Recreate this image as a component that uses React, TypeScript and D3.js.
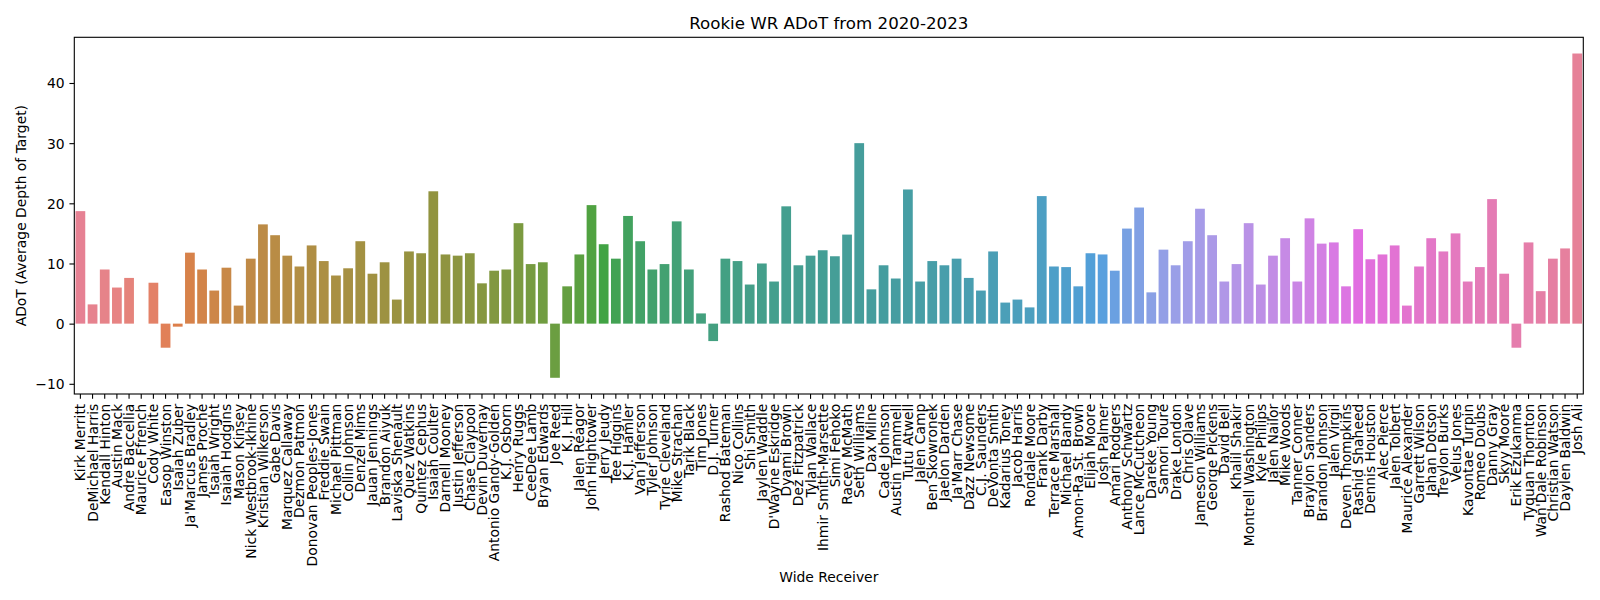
import React, { useRef, useEffect } from "react";
import * as d3 from "d3";

const receivers = [
  "Kirk Merritt", "DeMichael Harris", "Kendall Hinton", "Austin Mack", "Andre Baccellia",
  "Maurice Ffrench", "Cody White", "Easop Winston", "Isaiah Zuber", "Ja'Marcus Bradley",
  "James Proche", "Isaiah Wright", "Isaiah Hodgins", "Mason Kinsey", "Nick Westbrook-Ikhine",
  "Kristian Wilkerson", "Gabe Davis", "Marquez Callaway", "Dezmon Patmon", "Donovan Peoples-Jones",
  "Freddie Swain", "Michael Pittman", "Collin Johnson", "Denzel Mims", "Jauan Jennings",
  "Brandon Aiyuk", "Laviska Shenault", "Quez Watkins", "Quintez Cephus", "Isaiah Coulter",
  "Darnell Mooney", "Justin Jefferson", "Chase Claypool", "Devin Duvernay", "Antonio Gandy-Golden",
  "K.J. Osborn", "Henry Ruggs", "CeeDee Lamb", "Bryan Edwards", "Joe Reed",
  "K.J. Hill", "Jalen Reagor", "John Hightower", "Jerry Jeudy", "Tee Higgins",
  "K.J. Hamler", "Van Jefferson", "Tyler Johnson", "Tyrie Cleveland", "Mike Strachan",
  "Tarik Black", "Tim Jones", "D.J. Turner", "Rashod Bateman", "Nico Collins",
  "Shi Smith", "Jaylen Waddle", "D'Wayne Eskridge", "Dyami Brown", "Dez Fitzpatrick",
  "Tylan Wallace", "Ihmir Smith-Marsette", "Simi Fehoko", "Racey McMath", "Seth Williams",
  "Dax Milne", "Cade Johnson", "Austin Trammell", "Tutu Atwell", "Jalen Camp",
  "Ben Skowronek", "Jaelon Darden", "Ja'Marr Chase", "Dazz Newsome", "C.J. Saunders",
  "DeVonta Smith", "Kadarius Toney", "Jacob Harris", "Rondale Moore", "Frank Darby",
  "Terrace Marshall", "Michael Bandy", "Amon-Ra St. Brown", "Elijah Moore", "Josh Palmer",
  "Amari Rodgers", "Anthony Schwartz", "Lance McCutcheon", "Dareke Young", "Samori Toure",
  "Drake London", "Chris Olave", "Jameson Williams", "George Pickens", "David Bell",
  "Khalil Shakir", "Montrell Washington", "Kyle Philips", "Jalen Nailor", "Mike Woods",
  "Tanner Conner", "Braylon Sanders", "Brandon Johnson", "Jalen Virgil", "Deven Thompkins",
  "Rashid Shaheed", "Dennis Houston", "Alec Pierce", "Jalen Tolbert", "Maurice Alexander",
  "Garrett Wilson", "Jahan Dotson", "Treylon Burks", "Velus Jones", "Kavontae Turpin",
  "Romeo Doubs", "Danny Gray", "Skyy Moore", "Erik Ezukanma", "Tyquan Thornton",
  "Wan'Dale Robinson", "Christian Watson", "Daylen Baldwin", "Josh Ali",
];

const adot = [
  18.7, 3.2, 9.0, 6.0, 7.6,
  0, 6.8, -4.0, -0.5, 11.8,
  9.0, 5.5, 9.3, 3.0, 10.8,
  16.5, 14.7, 11.3, 9.5, 13.0,
  10.4, 8.0, 9.2, 13.7, 8.3,
  10.2, 4.0, 12.0, 11.7, 22.0,
  11.5, 11.3, 11.7, 6.7, 8.8,
  9.0, 16.7, 9.9, 10.2, -9.0,
  6.2, 11.5, 19.7, 13.2, 10.8,
  17.9, 13.7, 9.0, 9.9, 17.0,
  9.0, 1.7, -2.9, 10.8, 10.4,
  6.5, 10.0, 7.0, 19.5, 9.7,
  11.3, 12.2, 11.2, 14.8, 30.0,
  5.7, 9.7, 7.5, 22.3, 7.0,
  10.4, 9.7, 10.8, 7.6, 5.5,
  12.0, 3.5, 4.0, 2.7, 21.2,
  9.5, 9.4, 6.2, 11.7, 11.5,
  8.8, 15.8, 19.3, 5.2, 12.3,
  9.7, 13.7, 19.1, 14.7, 7.0,
  9.9, 16.7, 6.5, 11.3, 14.2,
  7.0, 17.5, 13.3, 13.5, 6.2,
  15.7, 10.7, 11.5, 13.0, 3.0,
  9.5, 14.2, 12.0, 15.0, 7.0,
  9.4, 20.7, 8.3, -4.0, 13.5,
  5.4, 10.8, 12.5, 44.9,
];

const yTicks = [-10, 0, 10, 20, 30, 40];

// husl (seaborn flavour) -> rgb
const M = [
  [3.2406, -1.5372, -0.4986],
  [-0.9689, 1.8758, 0.0415],
  [0.0557, -0.204, 1.057],
];
const refU = 0.19784;
const refV = 0.46834;
const kappa = 903.2962962;
const epsilon = 0.0088564516;

const maxChroma = (L: number, H: number) => {
  const hrad = (H / 360) * 2 * Math.PI;
  const sinH = Math.sin(hrad);
  const cosH = Math.cos(hrad);
  const sub1 = Math.pow(L + 16, 3) / 1560896;
  const sub2 = sub1 > epsilon ? sub1 : L / kappa;
  let result = Infinity;
  for (const [m1, m2, m3] of M) {
    const top = (0.99915 * m1 + 1.05122 * m2 + 1.1446 * m3) * sub2;
    const rbottom = 0.8633 * m3 - 0.17266 * m2;
    const lbottom = 0.12949 * m3 - 0.38848 * m1;
    const bottom = (rbottom * sinH + lbottom * cosH) * sub2;
    for (const t of [0, 1]) {
      const C = (L * (top - 1.05122 * t)) / (bottom + 0.17266 * sinH * t);
      if (C > 0 && C < result) result = C;
    }
  }
  return result;
};

const huslToRgb = (H: number, S: number, L: number) => {
  const C = (maxChroma(L, H) / 100) * S;
  const hrad = (H / 360) * 2 * Math.PI;
  const U = Math.cos(hrad) * C;
  const V = Math.sin(hrad) * C;
  const t = (L + 16) / 116;
  const Y = Math.pow(t, 3) > epsilon ? Math.pow(t, 3) : (116 * t - 16) / kappa;
  const varU = U / (13 * L) + refU;
  const varV = V / (13 * L) + refV;
  const X = 0 - (9 * Y * varU) / ((varU - 4) * varV - varU * varV);
  const Z = (9 * Y - 15 * varV * Y - varV * X) / (3 * varV);
  return M.map(([a, b, c]) => {
    const lin = a * X + b * Y + c * Z;
    const v = lin <= 0.0031308 ? 12.92 * lin : 1.055 * Math.pow(lin, 1 / 2.4) - 0.055;
    return Math.max(0, Math.min(1, v));
  });
};

const barColors = (n: number) =>
  d3.range(n).map((i) => {
    const h = ((i / n + 0.01) % 1) * 359;
    const [r, g, b] = huslToRgb(h, 0.9 * 99, 0.65 * 99);
    const c = d3.hsl(d3.rgb(r * 255, g * 255, b * 255));
    c.s *= 0.75;
    return c.formatHex();
  });

const W = 1600;
const H = 600;
const margin = { left: 74.3, right: 1583.3, top: 37.3, bottom: 394 };
const font = "DejaVu Sans, sans-serif";

export default function App() {
  const svgRef = useRef<SVGSVGElement>(null);

  useEffect(() => {
    if (!svgRef.current) return;
    const svg = d3.select(svgRef.current);
    svg.selectAll("*").remove();

    const x = d3
      .scaleBand<string>()
      .domain(receivers)
      .range([margin.left, margin.right])
      .paddingInner(0.2)
      .paddingOuter(0.1);

    const lo = d3.min(adot)!;
    const hi = d3.max(adot)!;
    const pad = (hi - lo) * 0.05;
    const y = d3
      .scaleLinear()
      .domain([lo - pad, hi + pad])
      .range([margin.bottom, margin.top]);

    const colors = barColors(receivers.length);

    svg
      .append("g")
      .selectAll("rect")
      .data(adot)
      .enter()
      .append("rect")
      .attr("x", (d, i) => x(receivers[i])!)
      .attr("width", x.bandwidth())
      .attr("y", (d) => y(Math.max(0, d)))
      .attr("height", (d) => Math.abs(y(d) - y(0)))
      .attr("fill", (d, i) => colors[i]);

    // x axis
    const xAxis = svg
      .append("g")
      .attr("transform", `translate(0,${margin.bottom})`)
      .call(d3.axisBottom(x).tickSize(4.86).tickPadding(4.86).tickSizeOuter(0));
    xAxis.select(".domain").remove();
    xAxis.selectAll("line").attr("stroke", "#000").attr("stroke-width", 1.1);
    xAxis
      .selectAll("text")
      .attr("font-family", font)
      .attr("font-size", 13.9)
      .attr("fill", "#000")
      .attr("text-anchor", "end")
      .attr("dominant-baseline", "central")
      .attr("dy", null)
      .attr("y", 0)
      .attr("transform", "translate(0,9.7) rotate(-90)");

    // y axis
    const yAxis = svg
      .append("g")
      .attr("transform", `translate(${margin.left},0)`)
      .call(
        d3
          .axisLeft(y)
          .tickValues(yTicks)
          .tickSize(4.86)
          .tickPadding(4.86)
          .tickSizeOuter(0)
          .tickFormat((d) => d3.format("d")(d as number).replace("-", "\u2212"))
      );
    yAxis.select(".domain").remove();
    yAxis.selectAll("line").attr("stroke", "#000").attr("stroke-width", 1.1);
    yAxis
      .selectAll("text")
      .attr("font-family", font)
      .attr("font-size", 13.9)
      .attr("fill", "#000")
      .attr("dy", null)
      .attr("dominant-baseline", "central");

    // frame
    svg
      .append("rect")
      .attr("x", margin.left)
      .attr("y", margin.top)
      .attr("width", margin.right - margin.left)
      .attr("height", margin.bottom - margin.top)
      .attr("fill", "none")
      .attr("stroke", "#000")
      .attr("stroke-width", 1.1);

    svg
      .append("text")
      .attr("x", (margin.left + margin.right) / 2)
      .attr("y", 29)
      .attr("text-anchor", "middle")
      .attr("font-family", font)
      .attr("font-size", 16.67)
      .text("Rookie WR ADoT from 2020-2023");

    svg
      .append("text")
      .attr("x", (margin.left + margin.right) / 2)
      .attr("y", 581.5)
      .attr("text-anchor", "middle")
      .attr("font-family", font)
      .attr("font-size", 13.9)
      .text("Wide Receiver");

    svg
      .append("text")
      .attr("transform", `translate(26,${(margin.top + margin.bottom) / 2}) rotate(-90)`)
      .attr("text-anchor", "middle")
      .attr("font-family", font)
      .attr("font-size", 13.9)
      .text("ADoT (Average Depth of Target)");
  }, []);

  return (
    <svg
      ref={svgRef}
      width={W}
      height={H}
      viewBox={`0 0 ${W} ${H}`}
      style={{ position: "absolute", left: 0, top: 0, background: "#fff" }}
    />
  );
}
